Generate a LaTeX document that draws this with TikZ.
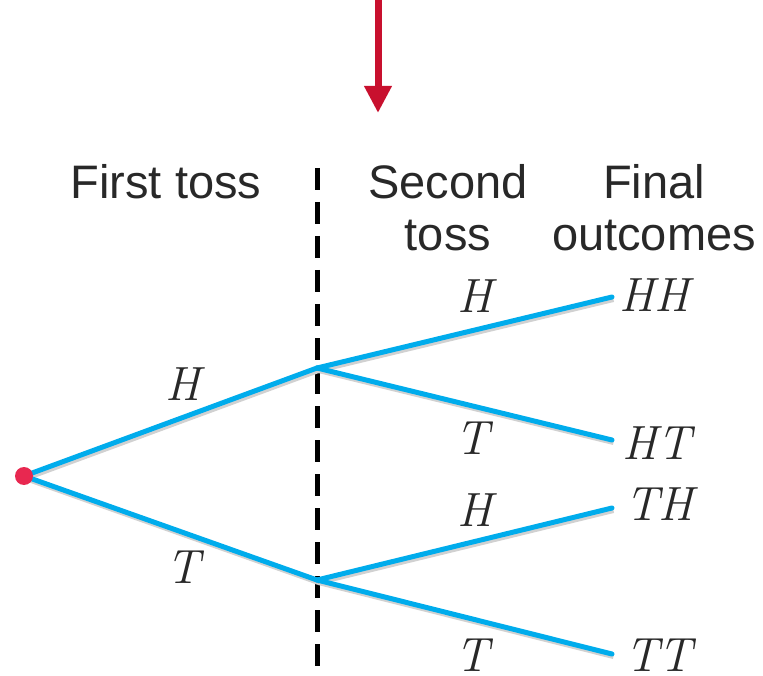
\documentclass[tikz,border=0pt]{standalone}
\usepackage{fontspec}
\newfontfamily\hdrfont{Liberation Sans}
\usetikzlibrary{arrows.meta}
\definecolor{branchblue}{RGB}{0,172,236}
\definecolor{arrowred}{RGB}{200,16,46}
\definecolor{dotred}{RGB}{232,40,80}
\definecolor{hdrgrey}{RGB}{40,40,40}
\tikzset{
  branch/.style={draw=branchblue, line width=5pt, line cap=round},
  shadowline/.style={draw=black!18, line width=5pt},
  hdr/.style={font=\hdrfont\fontsize{47}{52}\selectfont, text=hdrgrey, align=center, inner sep=0pt},
  lbl/.style={font=\itshape\fontsize{48}{50}\selectfont, text=hdrgrey, inner sep=0pt},
  outc/.style={font=\itshape\fontsize{48}{50}\selectfont, text=hdrgrey, inner sep=0pt, anchor=west},
}
\begin{document}
\begin{tikzpicture}[x=1pt,y=-1pt]
\useasboundingbox (0,0) rectangle (763,676);
% red arrow
\coordinate (atop) at (378,0);
\coordinate (abot) at (378,113);
\draw[arrowred, line width=7pt, -{Triangle[width=26pt,length=27pt]}] (atop) -- (abot);
% headers
\node[hdr] (h1) at (166,182) {First toss};
\node[hdr] (h2) at (448,208) {Second\\toss};
\node[hdr] (h3) at (654,208) {Final\\outcomes};
% dashed line
\coordinate (dtop) at (317,168);
\coordinate (dbot) at (317,667);
\draw[black, line width=5pt, dash pattern=on 22pt off 12pt] (dtop) -- (dbot);
% nodes
\coordinate (root) at (24,476);
\coordinate (nH) at (317,368);
\coordinate (nT) at (317,580);
\coordinate (eHH) at (612,297);
\coordinate (eHT) at (612,440);
\coordinate (eTH) at (612,508);
\coordinate (eTT) at (612,654);
% shadows
\foreach \a/\b in {root/nH,root/nT,nH/eHH,nH/eHT,nT/eTH,nT/eTT}{
  \draw[shadowline] ([shift={(1.5,2.5)}]\a) -- ([shift={(1.5,2.5)}]\b);
}
% branches
\draw[branch] (root) -- (nH);
\draw[branch] (root) -- (nT);
\draw[branch] (nH) -- (eHH);
\draw[branch] (nH) -- (eHT);
\draw[branch] (nT) -- (eTH);
\draw[branch] (nT) -- (eTT);
\fill[dotred] (root) circle (9pt);
% branch labels
\node[lbl] (l1) at (183,384) {H};
\node[lbl] (l2) at (183,567) {T};
\node[lbl] (l3) at (475,296) {H};
\node[lbl] (l4) at (472,438) {T};
\node[lbl] (l5) at (475,510) {H};
\node[lbl] (l6) at (472,655) {T};
% outcomes
\node[outc] (oHH) at (619,295) {HH};
\node[outc] (oHT) at (622,443) {HT};
\node[outc] (oTH) at (625,504) {TH};
\node[outc] (oTT) at (625,655) {TT};
\end{tikzpicture}
\end{document}
